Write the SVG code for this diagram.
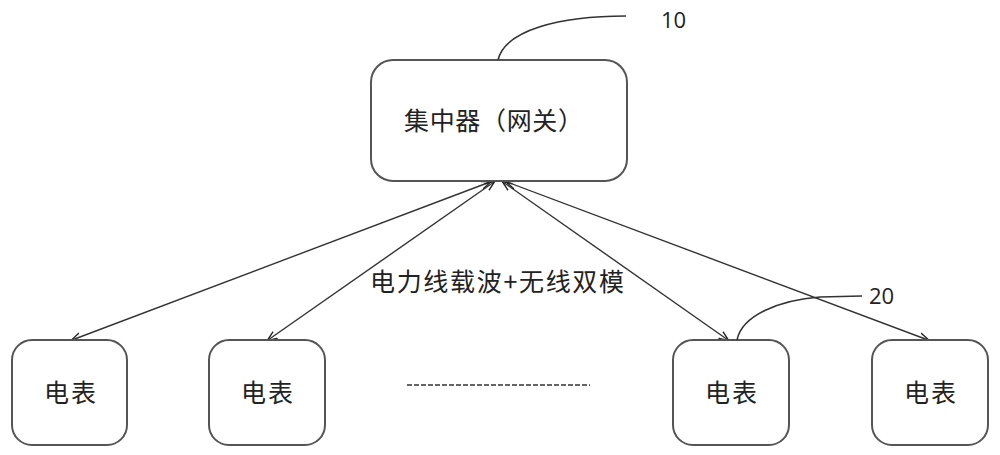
<svg xmlns="http://www.w3.org/2000/svg" width="1000" height="455" viewBox="0 0 1000 455">
<defs>
<marker id="ah" viewBox="0 0 10 10" refX="9" refY="5" markerWidth="10" markerHeight="10" markerUnits="userSpaceOnUse" orient="auto-start-reverse">
<path d="M0,1 L10,5 L0,9" fill="none" stroke="#222" stroke-width="1.4"/>
</marker>
<style>
.box{fill:#fff;stroke:#555;stroke-width:2}
.t{font-family:"Noto Sans CJK SC","Noto Sans",sans-serif;font-size:25px;fill:#222}
.n{font-family:"Open Sans","Liberation Sans",sans-serif;font-size:22px;fill:#222}
.c{fill:none;stroke:#333;stroke-width:1.4}
.lead{fill:none;stroke:#333;stroke-width:1.6}
</style>
</defs>
<rect width="1000" height="455" fill="#fff"/>
<g id="connectors">
<line class="c" x1="490" y1="182" x2="72" y2="340" marker-start="url(#ah)" marker-end="url(#ah)"/>
<line class="c" x1="494" y1="182" x2="268" y2="340" marker-start="url(#ah)" marker-end="url(#ah)"/>
<line class="c" x1="503" y1="182" x2="728" y2="340" marker-start="url(#ah)" marker-end="url(#ah)"/>
<line class="c" x1="507" y1="182" x2="928" y2="340" marker-start="url(#ah)" marker-end="url(#ah)"/>
</g>
<g id="hub">
<rect class="box" x="371" y="60" width="256" height="121" rx="22"/>
<text class="t" x="404" y="130" textLength="179" lengthAdjust="spacing">集中器（网关）</text>
</g>
<g id="meter1">
<rect class="box" x="12" y="340" width="115" height="105" rx="20"/>
<text class="t" x="44" y="402" textLength="52" lengthAdjust="spacing">电表</text>
</g>
<g id="meter2">
<rect class="box" x="209" y="340" width="116" height="105" rx="20"/>
<text class="t" x="241" y="402" textLength="52" lengthAdjust="spacing">电表</text>
</g>
<g id="meter3">
<rect class="box" x="673" y="340" width="116" height="105" rx="20"/>
<text class="t" x="705" y="402" textLength="52" lengthAdjust="spacing">电表</text>
</g>
<g id="meter4">
<rect class="box" x="872" y="340" width="116" height="105" rx="20"/>
<text class="t" x="904" y="402" textLength="52" lengthAdjust="spacing">电表</text>
</g>
<g id="labels">
<text class="t" x="370" y="291" textLength="254" lengthAdjust="spacing">电力线载波+无线双模</text>
<line x1="407" y1="385" x2="590" y2="385" stroke="#333" stroke-width="1.5" stroke-dasharray="5 2"/>
<path class="lead" d="M498,60 C505,30 560,16 626,16"/>
<text class="n" x="661" y="28">10</text>
<path class="lead" d="M737,340 C742,315 780,300 820,297 L862,296"/>
<text class="n" x="869" y="304">20</text>
</g>
</svg>
